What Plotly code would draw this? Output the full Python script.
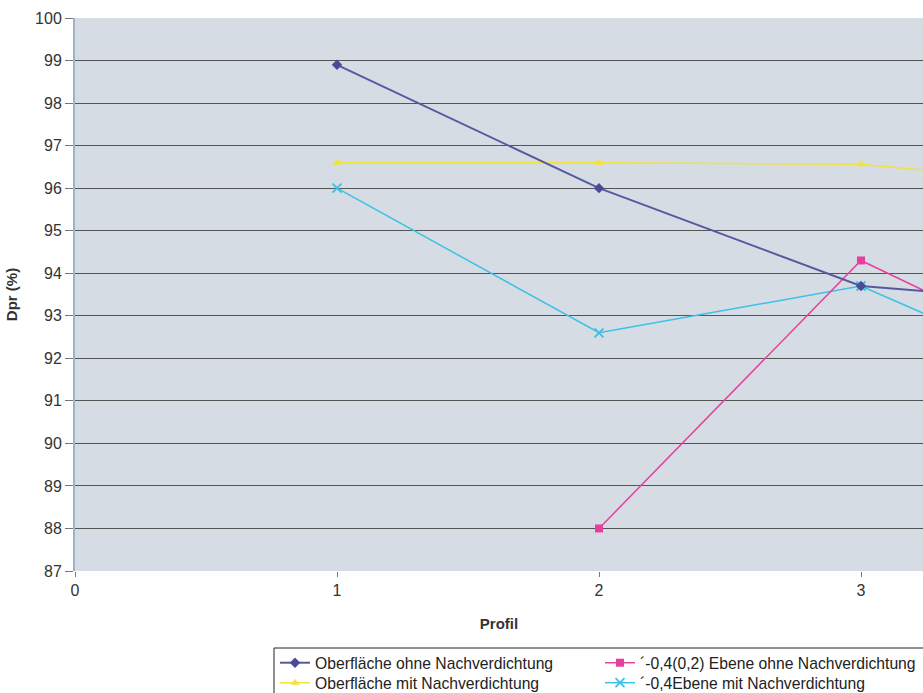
import plotly.graph_objects as go

profil = [1, 2, 3, 4]
ob_ohne = [98.9, 96.0, 93.7, 93.2]
ob_mit = [96.6, 96.6, 96.56, 96.0]
eb_ohne_x = [2, 3, 4]
eb_ohne = [88.0, 94.3, 91.35]
eb_mit = [96.0, 92.6, 93.7, 91.0]

names = [
    "Oberfläche ohne Nachverdichtung",
    "Oberfläche mit Nachverdichtung",
    "´-0,4(0,2) Ebene ohne Nachverdichtung",
    "´-0,4Ebene mit Nachverdichtung",
]

fig = go.Figure()
fig.add_trace(go.Scatter(x=profil, y=ob_mit, name=names[1], mode="lines+markers",
                         line=dict(color="#f2e23c", width=1.5),
                         marker=dict(symbol="triangle-up", size=8, color="#f2e23c"),
                         legend="legend2"))
fig.add_trace(go.Scatter(x=profil, y=eb_mit, name=names[3], mode="lines+markers",
                         line=dict(color="#3cc0e6", width=1.5),
                         marker=dict(symbol="x-thin", size=9, color="#3cc0e6",
                                     line=dict(color="#3cc0e6", width=1.8)),
                         legend="legend4"))
fig.add_trace(go.Scatter(x=eb_ohne_x, y=eb_ohne, name=names[2], mode="lines+markers",
                         line=dict(color="#e6409e", width=1.5),
                         marker=dict(symbol="square", size=8, color="#e6409e"),
                         legend="legend3"))
fig.add_trace(go.Scatter(x=profil, y=ob_ohne, name=names[0], mode="lines+markers",
                         line=dict(color="#5858a0", width=2),
                         marker=dict(symbol="diamond", size=8, color="#4a4a98"),
                         legend="legend"))

PX0, PY0, PW, PH = 75, 571, 848, 553  # plot area in window px


def px(x):
    return (x - PX0) / PW


def py(y):
    return (PY0 - y) / PH


leg_common = dict(orientation="v", xanchor="left", yanchor="middle",
                  bgcolor="rgba(0,0,0,0)", borderwidth=0,
                  font=dict(size=15.7, color="#222"), tracegroupgap=0)

fig.update_layout(
    width=923, height=693,
    margin=dict(l=75, r=0, t=18, b=122, autoexpand=False),
    paper_bgcolor="white",
    plot_bgcolor="#d5dce3",
    font=dict(family="Liberation Sans, Arial, sans-serif", size=16, color="#333"),
    xaxis=dict(range=[0, 848 / 262], tickvals=[0, 1, 2, 3], showgrid=False,
               zeroline=False, showline=False, ticks="outside", ticklen=5,
               tickcolor="#777", tickfont=dict(size=16),
               title=dict(text="<b>Profil</b>", font=dict(size=15), standoff=20)),
    yaxis=dict(range=[87, 100], dtick=1, showgrid=True, gridcolor="#555",
               gridwidth=1, zeroline=False, showline=True, linecolor="#9fb4c8",
               linewidth=2, ticks="outside", ticklen=8, tickcolor="#777",
               tickfont=dict(size=16),
               title=dict(text="<b>Dpr (%)</b>", font=dict(size=15), standoff=14)),
    legend=dict(x=px(275), y=py(663), **leg_common),
    legend2=dict(x=px(275), y=py(683), **leg_common),
    legend3=dict(x=px(600), y=py(663), **leg_common),
    legend4=dict(x=px(600), y=py(683), **leg_common),
    shapes=[dict(type="rect", xref="paper", yref="paper",
                 x0=px(274), x1=px(935), y0=py(648), y1=py(705),
                 line=dict(color="#222", width=1), fillcolor="white", layer="below")],
    showlegend=True,
)

fig.write_html(
    "out.html",
    config={"displayModeBar": False},
    post_script="document.body.style.margin='0';document.body.style.overflow='hidden';",
)
